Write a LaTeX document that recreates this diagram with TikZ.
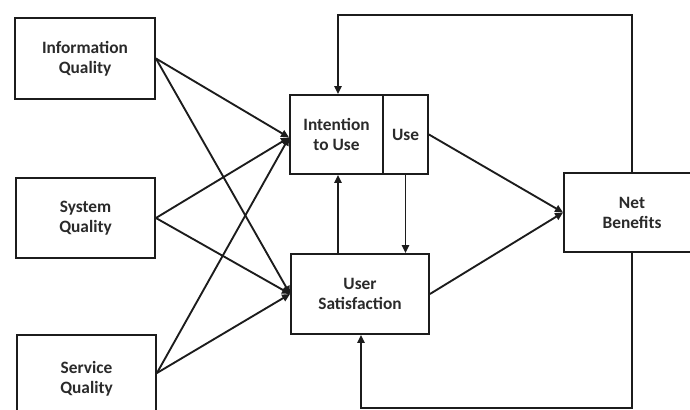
\documentclass[tikz,border=0pt]{standalone}
\usepackage{fontspec}
\setmainfont{Carlito}
\usetikzlibrary{arrows.meta,calc}
\definecolor{ink}{HTML}{1C1C1C}
\definecolor{label}{HTML}{2A2A2A}
\begin{document}
\begin{tikzpicture}[x=0.75pt,y=-0.75pt,
  box/.style={draw=ink,line width=1.4pt,fill=white,align=center,inner sep=0pt,
    font=\fontsize{13}{15}\selectfont\bfseries,text=label},
  link/.style={draw=ink,line width=1.4pt},
  arr/.style={link,-{Triangle[length=6pt,width=5.5pt]}}]
  \useasboundingbox (0,0) rectangle (690,410);
  \fill[white] (0,0) rectangle (690,410);
  \clip (0,0) rectangle (690,410);

  % independent quality dimensions
  \node[box,minimum width=105pt,minimum height=60.75pt] (iq) at (85,58.5) {Information\\Quality};
  \node[box,minimum width=104.25pt,minimum height=60pt] (sq) at (85.5,218) {System\\Quality};
  \node[box,minimum width=104.25pt,minimum height=66pt] (sv) at (86.5,379) {Service\\Quality};

  % use / intention to use, satisfaction, benefits
  \node[box,minimum width=69.75pt,minimum height=59.25pt] (int) at (336.5,134.5) {Intention\\to Use};
  \node[box,minimum width=33.75pt,minimum height=59.25pt] (use) at (405.5,134.5) {Use};
  \node[box,minimum width=103.5pt,minimum height=60pt] (us) at (360,294) {User\\Satisfaction};
  \node[box,minimum width=102pt,minimum height=59.25pt] (nb) at (632,212.5) {Net\\Benefits};

  % attachment points
  \coordinate (svo) at ($(sv.east)+(0,-6)$);
  \coordinate (inti) at ($(int.west)+(0,3)$);
  \coordinate (tl) at (338,15);
  \coordinate (bl) at (361,408);

  % quality dimensions to intention/use and satisfaction
  \foreach \s in {iq.east,sq.east,svo}{
    \draw[arr] (\s) -- (inti);
    \draw[arr] (\s) -- (us.west);
  }

  % links among the central constructs
  \draw[arr] (use.east) -- (nb.west);
  \draw[arr] (us.east) -- (nb.west);
  \draw[arr] (use.south) -- (use.south |- us.north);
  \draw[arr] (us.north -| tl) -- (int.south -| tl);

  % feedback loops from net benefits
  \draw[arr] (nb.north) |- (tl) -- (tl |- int.north);
  \draw[arr] (nb.south) |- (bl) -- (bl |- us.south);
\end{tikzpicture}
\end{document}
